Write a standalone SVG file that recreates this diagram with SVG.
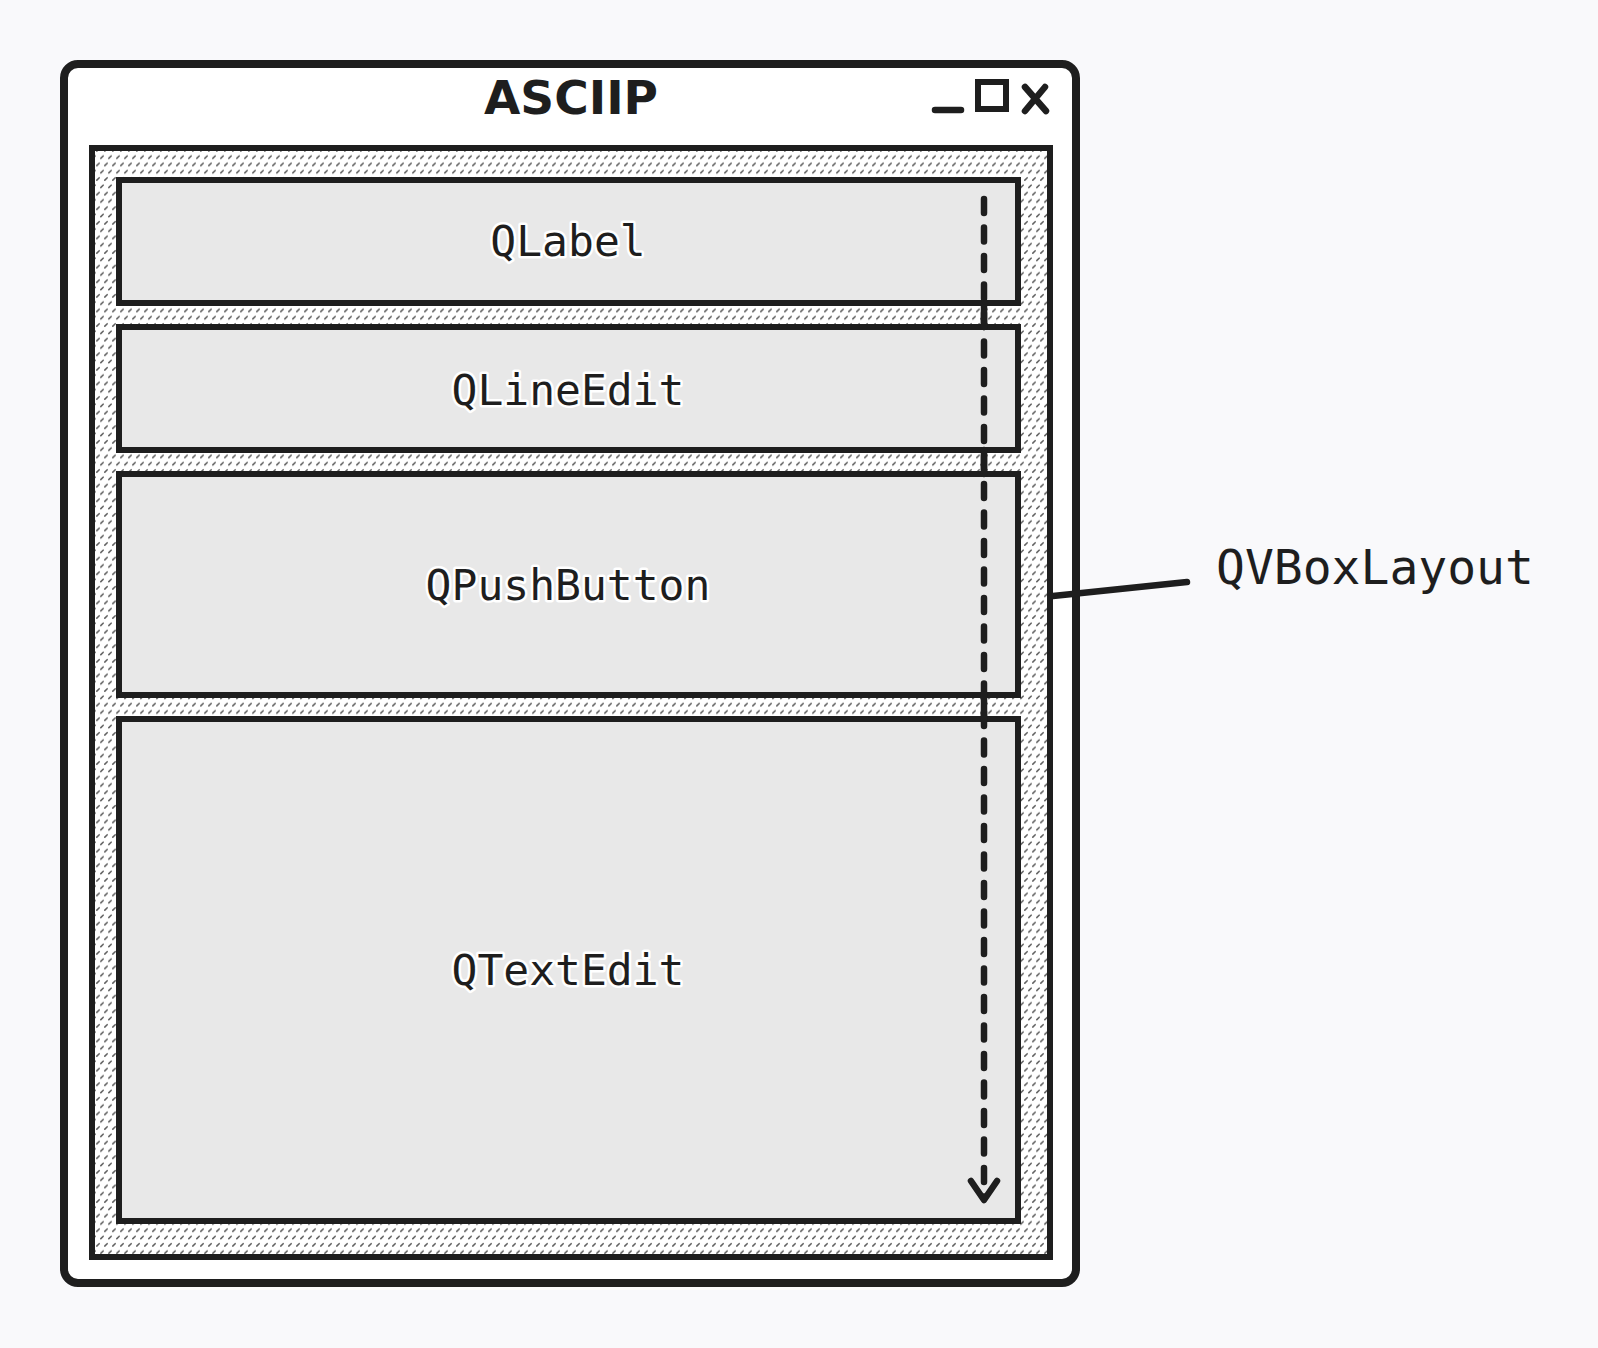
<svg xmlns="http://www.w3.org/2000/svg" width="1598" height="1348" viewBox="0 0 1598 1348">
  <defs>
    <pattern id="hatch" patternUnits="userSpaceOnUse" width="8" height="14.6">
      <rect width="8" height="14.6" fill="#ffffff"/>
      <path d="M0.8 5 L3.2 2.6 M4.8 12.3 L7.2 9.9" stroke="#5c5c5c" stroke-width="1.5" stroke-linecap="round"/>
    </pattern>
    <style>
      .win { fill: #ffffff; stroke: #1e1e1e; stroke-width: 8; }
      .layout { fill: url(#hatch); stroke: #1e1e1e; stroke-width: 6; }
      .widget { fill: #e8e8e8; stroke: #1e1e1e; stroke-width: 6; }
      .lbl { font-family: "DejaVu Sans Mono", "Liberation Mono", monospace; font-size: 43px; fill: #1e1e1e; text-anchor: middle; stroke: #ffffff; stroke-width: 5; stroke-linejoin: round; paint-order: stroke; }
      .side { font-family: "DejaVu Sans Mono", "Liberation Mono", monospace; font-size: 48px; fill: #1e1e1e; }
      .title { font-family: "DejaVu Sans", "Liberation Sans", sans-serif; font-weight: bold; font-size: 47px; fill: #1e1e1e; text-anchor: middle; }
      .ln { fill: none; stroke: #1e1e1e; stroke-width: 6.5; stroke-linecap: round; stroke-linejoin: round; }
    </style>
  </defs>
  <rect width="1598" height="1348" fill="#f9f9fb"/>

  <g id="window">
    <rect class="win" x="64" y="64" width="1012" height="1219" rx="14"/>
    <text class="title" x="571" y="114">ASCIIP</text>
    <path class="ln" d="M935 110 L961 110"/>
    <rect x="978" y="82" width="28" height="27" fill="none" stroke="#1e1e1e" stroke-width="6"/>
    <path class="ln" d="M1025 87 L1046 111 M1045 87 L1025 111"/>
  </g>

  <g id="layout">
    <rect class="layout" x="92" y="148" width="958" height="1109"/>
  </g>

  <g id="qlabel">
    <rect class="widget" x="119" y="180" width="899" height="123"/>
    <text class="lbl" x="568" y="256">QLabel</text>
  </g>
  <g id="qlineedit">
    <rect class="widget" x="119" y="327" width="899" height="123"/>
    <text class="lbl" x="568" y="405">QLineEdit</text>
  </g>
  <g id="qpushbutton">
    <rect class="widget" x="119" y="474" width="899" height="221"/>
    <text class="lbl" x="568" y="600">QPushButton</text>
  </g>
  <g id="qtextedit">
    <rect class="widget" x="119" y="719" width="899" height="502"/>
    <text class="lbl" x="568" y="985">QTextEdit</text>
  </g>

  <g id="connectors">
    <path class="ln" d="M984 199 L984 1198" stroke-width="7" stroke-dasharray="14 14.5"/>
    <path class="ln" d="M984 303 L984 327 M984 450 L984 474 M984 695 L984 719" stroke-width="7"/>
    <path class="ln" d="M971 1181 L984 1200 L997 1181" stroke-width="7"/>
    <path class="ln" d="M1053 596 L1187 582"/>
  </g>

  <g id="qvboxlayout-label">
    <text class="side" x="1216" y="584">QVBoxLayout</text>
  </g>
</svg>
